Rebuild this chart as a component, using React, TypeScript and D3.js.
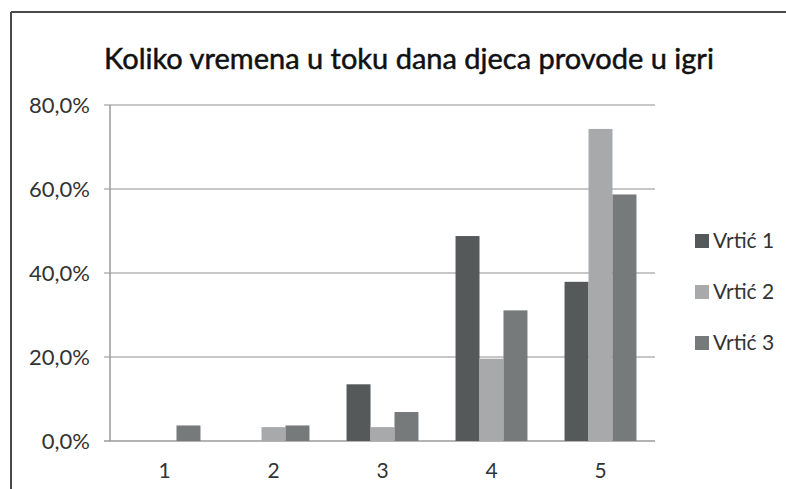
import * as React from 'react';
import * as d3 from 'd3';

const TITLE = 'Koliko vremena u toku dana  djeca provode u igri';
const CATEGORIES = ['1', '2', '3', '4', '5'];
const SERIES = ['Vrtić 1', 'Vrtić 2', 'Vrtić 3'];
const VRTIC_1 = [0, 0, 13.5, 48.8, 37.9];
const VRTIC_2 = [0, 3.3, 3.3, 19.6, 74.3];
const VRTIC_3 = [3.7, 3.7, 6.9, 31.1, 58.7];
const Y_TICKS = [0, 20, 40, 60, 80];
const COLORS = ['#55595a', '#a7a9aa', '#767a7b'];

const W = 786;
const H = 489;
const FONT = "Lato, 'Open Sans', sans-serif";

export default function App() {
    const values = [VRTIC_1, VRTIC_2, VRTIC_3];

    // plot area
    const left = 110, right = 655, top = 105, bottom = 441;

    const x0 = d3.scaleBand<string>()
        .domain(CATEGORIES)
        .range([left, right])
        .paddingInner(0.34)
        .paddingOuter(0.17);

    const x1 = d3.scaleBand<string>()
        .domain(SERIES)
        .range([0, x0.bandwidth()]);

    const y = d3.scaleLinear()
        .domain([0, 80])
        .range([bottom, top]);

    const fmt = (v: number) => d3.format('.1f')(v).replace('.', ',') + '%';

    return (
        <svg width={W} height={H} style={{ position: 'absolute', left: 0, top: 0, background: '#fff' }}
            fontFamily={FONT}>
            {/* outer frame (cropped) */}
            <line x1={11} x2={W} y1={12} y2={12} stroke="#4a4a4a" strokeWidth={2} />
            <line x1={11} x2={11} y1={12} y2={H} stroke="#4a4a4a" strokeWidth={2} />

            <text x={409} y={69} textAnchor="middle" fontSize={29} fill="#111"
                stroke="#111" strokeWidth={0.5}>
                {TITLE}
            </text>

            {/* gridlines + y ticks */}
            {Y_TICKS.map(t => (
                <g key={t}>
                    <line x1={left - 6} x2={right} y1={y(t)} y2={y(t)}
                        stroke={t === 0 ? '#9a9a9a' : '#b5b5b5'} strokeWidth={1.5} />
                    <text x={90} y={y(t)} dy="0.35em" textAnchor="end" fontSize={22} fill="#333">
                        {fmt(t)}
                    </text>
                </g>
            ))}
            <line x1={left} x2={left} y1={top} y2={bottom} stroke="#9a9a9a" strokeWidth={1.5} />

            {/* bars */}
            {CATEGORIES.map((c, i) => (
                <g key={c} transform={`translate(${x0(c)},0)`}>
                    {SERIES.map((s, k) => {
                        const v = values[k][i];
                        if (!v) return null;
                        return (
                            <rect key={s} x={x1(s)} y={y(v)} width={x1.bandwidth()}
                                height={y(0) - y(v)} fill={COLORS[k]} />
                        );
                    })}
                    <text x={x0.bandwidth() / 2} y={471} dy="0.35em" textAnchor="middle"
                        fontSize={21} fill="#333">{c}</text>
                </g>
            ))}

            {/* legend */}
            {SERIES.map((s, k) => (
                <g key={s} transform={`translate(695,${241 + k * 51})`}>
                    <rect x={0} y={-7} width={14} height={14} fill={COLORS[k]} />
                    <text x={18} y={0} dy="0.35em" fontSize={21} fill="#333">{s}</text>
                </g>
            ))}
        </svg>
    );
}
